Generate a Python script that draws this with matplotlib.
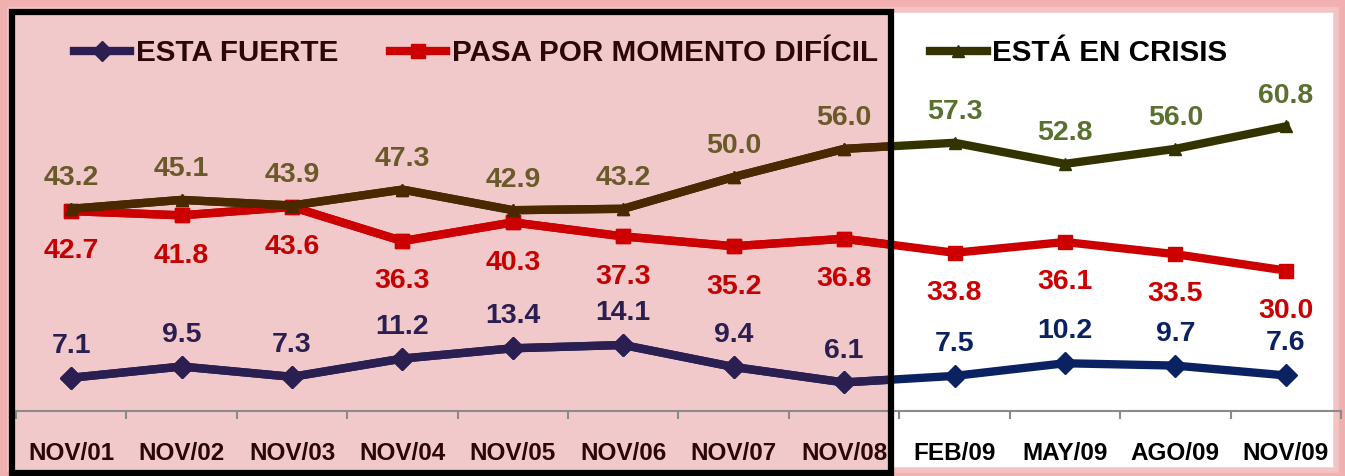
import matplotlib.pyplot as plt
from matplotlib.patches import Rectangle
from matplotlib.lines import Line2D

plt.rcParams["font.family"] = ["Liberation Sans", "DejaVu Sans"]

PERIODOS = ["NOV/01", "NOV/02", "NOV/03", "NOV/04", "NOV/05", "NOV/06",
            "NOV/07", "NOV/08", "FEB/09", "MAY/09", "AGO/09", "NOV/09"]
FUERTE = [7.1, 9.5, 7.3, 11.2, 13.4, 14.1, 9.4, 6.1, 7.5, 10.2, 9.7, 7.6]
DIFICIL = [42.7, 41.8, 43.6, 36.3, 40.3, 37.3, 35.2, 36.8, 33.8, 36.1, 33.5, 30.0]
CRISIS = [43.2, 45.1, 43.9, 47.3, 42.9, 43.2, 50.0, 56.0, 57.3, 52.8, 56.0, 60.8]
N_HIST = 8  # periodos dentro del recuadro rosado

# colores: (tramo rosado, tramo blanco)
LINE_F = ("#2a1f50", "#0b2262")
LINE_D = ("#cc0000", "#cc0000")
LINE_C = ("#4a2800", "#333300")
LAB_F = ("#2a1f50", "#0b2262")
LAB_D = ("#c40000", "#cc0000")
LAB_C = ("#6a5a2a", "#5a7030")
TXT = ("#2a0808", "#000000")
PINK = "#f2c9cb"

W, H = 1345, 476
fig = plt.figure(figsize=(W / 100, H / 100), dpi=100, facecolor="#f0b0b0")


def px(x0, y0, x1, y1):
    # caja en pixeles (origen arriba-izquierda) -> coords de figura
    return (x0 / W, 1 - y1 / H, (x1 - x0) / W, (y1 - y0) / H)


x, y, w, h = px(10, 10, 1336, 470)
fig.add_artist(Rectangle((x, y), w, h, transform=fig.transFigure,
                         facecolor="white", edgecolor="#f4c4c4",
                         linewidth=4, zorder=-3))
x, y, w, h = px(12, 12, 891, 473)
hist_box = Rectangle((x, y), w, h, transform=fig.transFigure,
                     facecolor=PINK, edgecolor="none", zorder=-2)
fig.add_artist(hist_box)
fig.add_artist(Rectangle((x, y), w, h, transform=fig.transFigure,
                         facecolor="none", edgecolor="black",
                         linewidth=4.5, zorder=5))

ax = fig.add_axes([16 / W, 65 / H, (1341 - 16) / W, (411 - 15) / H])
ax.set_facecolor("none")
xs = list(range(len(PERIODOS)))

series = [
    (FUERTE, LINE_F, LAB_F, "D", 11, 23, 1),
    (DIFICIL, LINE_D, LAB_D, "s", 10, -29, 2),
    (CRISIS, LINE_C, LAB_C, "^", 9, 22, 3),
]
for vals, lc, labc, mk, ms, off, z in series:
    ax.plot(xs, vals, color=lc[1], marker=mk, markersize=ms, linewidth=6,
            solid_joinstyle="miter", zorder=z)
    ln, = ax.plot(xs, vals, color=lc[0], marker=mk, markersize=ms,
                  linewidth=6, solid_joinstyle="miter", zorder=z)
    ln.set_clip_path(hist_box)
    for i, v in enumerate(vals):
        c = labc[0] if i < N_HIST else labc[1]
        ax.annotate(f"{v:.1f}", (i, v), xytext=(0, off),
                    textcoords="offset points", ha="center", va="center",
                    fontsize=20.5, fontweight="bold", color=c, zorder=4)

ax.set_xlim(-0.5, len(PERIODOS) - 0.5)
ax.set_ylim(0, 84.6)
ax.set_yticks([])
for s in ("top", "right", "left"):
    ax.spines[s].set_visible(False)
ax.spines["bottom"].set_color("#8a8a8a")
ax.spines["bottom"].set_linewidth(1.5)
ax.set_xticks([i + 0.5 for i in range(-1, len(PERIODOS))], minor=True)
ax.set_xticks(xs)
ax.set_xticklabels(PERIODOS, fontsize=17.5, fontweight="bold")
for i, t in enumerate(ax.get_xticklabels()):
    t.set_color(TXT[0] if i < N_HIST else TXT[1])
ax.tick_params(axis="x", which="major", length=0, pad=22)
ax.tick_params(axis="x", which="minor", length=6, width=1.5,
               color="#8a8a8a")

handles = [
    Line2D([], [], color=LINE_F[0], marker="D", markersize=10, linewidth=6),
    Line2D([], [], color=LINE_D[0], marker="s", markersize=10, linewidth=6),
    Line2D([], [], color=LINE_C[1], marker="^", markersize=9, linewidth=6),
]
leg = fig.legend(handles, ["ESTA FUERTE", "PASA POR MOMENTO DIFÍCIL",
                           "ESTÁ EN CRISIS"],
                 loc="center left", bbox_to_anchor=(74 / W, 1 - 53 / H),
                 ncol=3, frameon=False, borderpad=0, borderaxespad=0,
                 handlelength=1.9, handletextpad=0.2, columnspacing=1.75,
                 prop={"size": 21.3, "weight": "bold"})
leg.set_zorder(6)
for t, c in zip(leg.get_texts(), (TXT[0], TXT[0], TXT[1])):
    t.set_color(c)

fig.savefig("out.png", dpi=100, facecolor=fig.get_facecolor())
